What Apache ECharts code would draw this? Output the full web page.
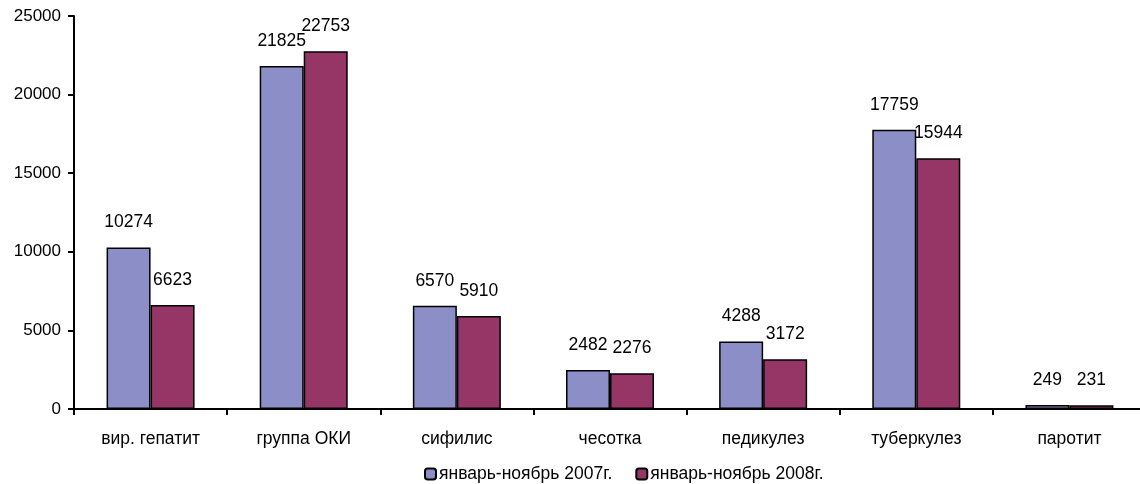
<!DOCTYPE html>
<html><head><meta charset="utf-8">
<script src="https://cdn.jsdelivr.net/npm/echarts@6/dist/echarts.min.js"></script>
<style>html,body{margin:0;padding:0;background:#fff;overflow:hidden}#c{width:1152px;height:484px}</style>
</head><body><div id="c"></div>
<script>
const categories = ['вир. гепатит','группа ОКИ','сифилис','чесотка','педикулез','туберкулез','паротит'];
const seriesNames = ['январь-ноябрь 2007г.','январь-ноябрь 2008г.'];
const values2007 = [10274, 21825, 6570, 2482, 4288, 17759, 249];
const values2008 = [6623, 22753, 5910, 2276, 3172, 15944, 231];
const yTicks = {min: 0, max: 25000, interval: 5000};

const FONT = '"Liberation Sans", Arial, sans-serif';
const chart = echarts.init(document.getElementById('c'), null, {renderer: 'canvas'});
const lbl = {show: true, position: 'top', distance: 16, color: '#000', fontFamily: FONT, fontSize: 17.5};
chart.setOption({
  animation: false,
  backgroundColor: '#fff',
  grid: {left: 74, top: 16, bottom: 75, width: 1072, containLabel: false},
  legend: {
    left: 424, top: 465, padding: 0, itemWidth: 11, itemHeight: 11, itemGap: 23,
    textStyle: {fontFamily: FONT, fontSize: 17.5, color: '#000', padding: [0,0,0,-2]},
    data: seriesNames
  },
  xAxis: {
    type: 'category', data: categories,
    axisLine: {lineStyle: {color: '#000', width: 2}},
    axisTick: {show: true, length: 6, lineStyle: {color: '#000', width: 2}, alignWithLabel: false},
    axisLabel: {color: '#000', fontFamily: FONT, fontSize: 17.5, margin: 21}
  },
  yAxis: {
    type: 'value', min: yTicks.min, max: yTicks.max, interval: yTicks.interval,
    axisLine: {show: true, lineStyle: {color: '#000', width: 2}},
    axisTick: {show: true, length: 6, lineStyle: {color: '#000', width: 2}},
    splitLine: {show: false},
    axisLabel: {color: '#000', fontFamily: FONT, fontSize: 17, margin: 13, formatter: v => String(v)}
  },
  series: [
    {name: seriesNames[0], type: 'bar', data: values2007, barWidth: 44, barGap: '0%',
     itemStyle: {color: '#8C8FC7', borderColor: '#000', borderWidth: 1.5}, label: lbl},
    {name: seriesNames[1], type: 'bar', data: values2008, barWidth: 44,
     itemStyle: {color: '#953667', borderColor: '#000', borderWidth: 1.5}, label: lbl}
  ]
});
</script></body></html>
